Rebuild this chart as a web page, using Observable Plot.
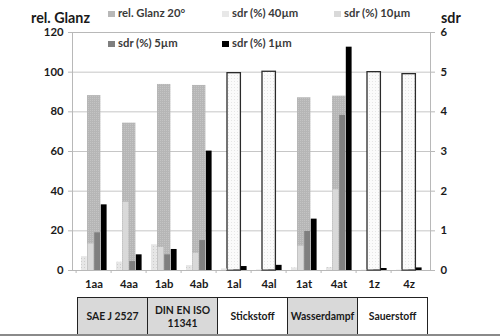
<!DOCTYPE html>
<html><head><meta charset="utf-8">
<script src="https://cdn.jsdelivr.net/npm/d3@7"></script>
<script src="https://cdn.jsdelivr.net/npm/@observablehq/plot@0.6"></script>
<style>
body{margin:0;background:#fff;}
#wrap{position:relative;width:500px;height:336px;overflow:hidden;font-family:Lato,"Open Sans",sans-serif;font-weight:bold;color:#262626;}
#wrap svg{position:absolute;left:0;top:0;}
.lg{position:absolute;font-size:11.3px;color:#3a3a3a;white-space:nowrap;line-height:12px;}
.sw{position:absolute;width:7px;height:6px;}
.ttl{position:absolute;font-size:14.3px;color:#1a1a1a;white-space:nowrap;}
.grp{position:absolute;box-sizing:border-box;border:1px solid #222;display:flex;align-items:center;justify-content:center;text-align:center;font-size:10.4px;line-height:13px;color:#1a1a1a;}
</style></head><body><div id="wrap"></div>
<script>
// ---- data ----
const categories = ["1aa","4aa","1ab","4ab","1al","4al","1at","4at","1z","4z"];
const glanz = [88.2, 74.3, 93.8, 93.3, 99.5, 100.2, 87.1, 87.9, 100, 99];      // rel. Glanz 20° (left axis)
const sdr40 = [0.35, 0.21, 0.65, 0.125, 0.04, 0.015, 0.065, 0.075, 0.01, 0.01]; // sdr (%) 40µm (right axis)
const sdr10 = [0.67, 1.72, 0.58, 0.435, 0.015, 0.01, 0.615, 2.035, 0.01, 0.01];
const sdr5  = [0.95, 0.225, 0.395, 0.755, 0.02, 0.025, 0.985, 3.91, 0.015, 0.015];
const sdr1  = [1.655, 0.395, 0.53, 3.01, 0.1, 0.13, 1.295, 5.63, 0.05, 0.065];
const leftTicks = [0, 20, 40, 60, 80, 100, 120];
const rightTicks = [0, 1, 2, 3, 4, 5, 6];
const seriesNames = ["rel. Glanz 20°", "sdr (%) 40µm", "sdr (%) 10µm", "sdr (%) 5µm", "sdr (%) 1µm"];
const groupLabels = ["SAE J 2527", "DIN EN ISO<br>11341", "Stickstoff", "Wasserdampf", "Sauerstoff"];
const groupFrom = ["1aa", "1ab", "1al", "1at", "1z"];
const groupTo   = ["4aa", "4ab", "4al", "4at", "4z"];
const outlinedCats = ["1al", "4al", "1z", "4z"];
const R = 120 / 6; // right axis (sdr) to left axis ratio

// ---- styles ----
const shadedGroups = [true, true, false, true, false];
const swatch = ["#b8b8b8", "#e8e8e8", "#d9d9d9", "#7f7f7f", "#000000"];

const rows = categories.map((c, i) => ({cat: c, glanz: glanz[i], s40: sdr40[i] * R, s10: sdr10[i] * R, s5: sdr5[i] * R, s1: sdr1[i] * R}));
const isOut = d => outlinedCats.includes(d.cat);

const plot = Plot.plot({
  width: 500, height: 336,
  marginLeft: 72, marginRight: 70, marginTop: 32, marginBottom: 66,
  style: {fontFamily: "Lato, 'Open Sans', sans-serif", fontSize: "11.3px", fontWeight: "bold", color: "#1a1a1a", background: "transparent"},
  x: {domain: categories, padding: 0, label: null},
  y: {domain: [0, 120], label: null},
  marks: [
    Plot.gridY(leftTicks, {stroke: "#c6c6c6", strokeOpacity: 1}),
    Plot.frame({stroke: "#b8b8b8"}),
    Plot.barY(rows, {filter: d => !isOut(d), x: "cat", y: "glanz", fill: "url(#pGlanz)", insetLeft: 11, insetRight: 10.6}),
    Plot.barY(rows, {filter: isOut, x: "cat", y: "glanz", fill: "url(#pOut)", stroke: "#2a2a2a", strokeWidth: 1.3, insetLeft: 11, insetRight: 10.6}),
    Plot.barY(rows, {x: "cat", y: "s40", fill: "url(#p40)", insetLeft: 5, insetRight: 24.2}),
    Plot.barY(rows, {x: "cat", y: "s10", fill: swatch[2], insetLeft: 11.6, insetRight: 17.6}),
    Plot.barY(rows, {x: "cat", y: "s5", fill: swatch[3], insetLeft: 18.2, insetRight: 11}),
    Plot.barY(rows, {x: "cat", y: "s1", fill: swatch[4], insetLeft: 24.8, insetRight: 4.4}),
    Plot.axisY(leftTicks, {anchor: "left", tickSize: 4, tickPadding: 5, stroke: "#b8b8b8", fill: "#1a1a1a", label: null}),
    Plot.axisY(rightTicks.map(v => v * R), {anchor: "right", tickSize: 4, tickPadding: 6, stroke: "#b8b8b8", fill: "#1a1a1a", tickFormat: d => d / R, label: null}),
    Plot.axisX({tickSize: 0, tickPadding: 9, fill: "#1a1a1a", label: null}),
    Plot.axisX({tickSize: 3, stroke: "#b8b8b8", tickFormat: () => "", dx: -17.9, label: null})
  ]
});

const svg = d3.select(plot);
const defs = svg.insert("defs", ":first-child");
function pat(id, bg, dot, size) {
  const p = defs.append("pattern").attr("id", id).attr("width", size).attr("height", size).attr("patternUnits", "userSpaceOnUse");
  p.append("rect").attr("width", size).attr("height", size).attr("fill", bg);
  p.append("rect").attr("width", 1).attr("height", 1).attr("fill", dot);
}
pat("pGlanz", "#b6b6b6", "#c4c4c4", 2);
pat("p40", "#e6e6e6", "#cdcdcd", 3);
pat("pOut", "#fbfbfb", "#e6e6e6", 3);

const wrap = document.getElementById("wrap");
wrap.appendChild(plot);

// axis titles
function addDiv(cls, html, css) { const d = document.createElement("div"); d.className = cls; d.innerHTML = html; Object.assign(d.style, css); wrap.appendChild(d); return d; }
addDiv("ttl", "rel. Glanz", {left: "31px", top: "9px"});
addDiv("ttl", "sdr", {left: "441px", top: "9px"});

// legend (overlaps the plot, as in the reference)
const legPos = [[108, 10], [222, 10], [334, 10], [108, 40], [222, 40]];
seriesNames.forEach((name, i) => {
  const [lx, ly] = legPos[i];
  addDiv("sw", "", {left: lx + "px", top: (ly + 1) + "px", background: swatch[i]});
  addDiv("lg", name, {left: (lx + 10) + "px", top: (ly - 3) + "px"});
});

// group table below x axis, positioned with the plot's x scale
const xs = plot.scale("x");
groupLabels.forEach((g, i) => {
  const l = xs.apply(groupFrom[i]);
  const r = xs.apply(groupTo[i]) + xs.bandwidth;
  addDiv("grp", g, {left: (l + 1) + "px", top: "297px", width: (r - l + 1) + "px", height: "39px", background: shadedGroups[i] ? "#d9d9d9" : "#ffffff"});
});
addDiv("", "", {position: "absolute", left: "0px", top: "334px", width: "500px", height: "2px", background: "#8a8a8a"});
</script></body></html>
